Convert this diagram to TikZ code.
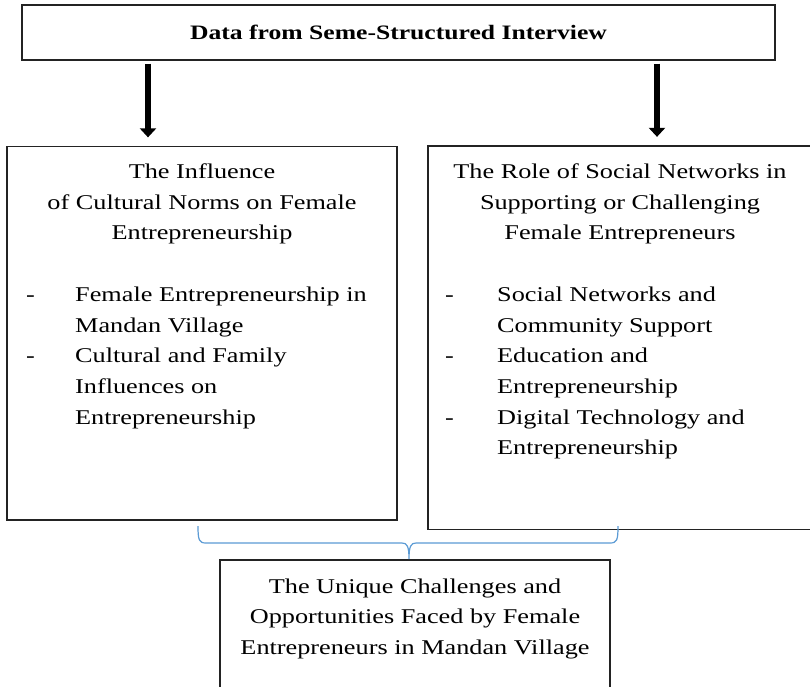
\documentclass[tikz,border=0pt]{standalone}
\usepackage{fontspec}
\setmainfont[FakeStretch=1.25]{Liberation Serif}
\usetikzlibrary{arrows.meta}
\definecolor{bracecol}{RGB}{91,155,213}
\definecolor{framecol}{RGB}{35,35,35}
\newcommand\stk[2][c]{\begin{tabular}[t]{@{}#1@{}}#2\end{tabular}}
\begin{document}
\begin{tikzpicture}[x=1pt,y=-1pt,
  box/.style={draw=framecol, line width=1.3pt, rectangle, inner sep=0pt},
  body/.style={font=\fontsize{21}{30.7}\selectfont, inner sep=0pt, text=black},
  ttl/.style={font=\bfseries\fontsize{20.5}{24}\selectfont, inner sep=0pt, text=black},
  bigarrow/.style={line width=6pt, -{Triangle[width=16pt,length=9pt]}},
  bracepath/.style={draw=bracecol, line width=1.2pt}]
\useasboundingbox (0,0) rectangle (810,686);
\fill[white] (0,0) rectangle (810,686);

% boxes
\node[box, minimum width=753pt, minimum height=55pt] (top) at (398.5,32.5) {};
\node[box, minimum width=390pt, minimum height=373.5pt] (lbox) at (202,333.25) {};
\node[box, minimum width=384pt, minimum height=383.5pt] (rbox) at (620,337.75) {};
\node[box, minimum width=390pt, minimum height=170pt] (bbox) at (415,645) {};

% top text
\node[ttl, anchor=base] (tt) at (398.5,39) {Data from Seme-Structured Interview};

% arrows
\coordinate (a1) at (148,0);
\coordinate (a2) at (657,0);
\draw[bigarrow, shorten <=3pt] (top.south -| a1) -- ([yshift=8.5pt]lbox.north -| a1);
\draw[bigarrow, shorten <=3pt] (top.south -| a2) -- ([yshift=8.5pt]rbox.north -| a2);

% left box text
\node[body, anchor=base] (lt) at (202,178.5) {\stk{The Influence\\of Cultural Norms on Female\\Entrepreneurship}};
\node[body, anchor=base west] (ld1) at (26,301.3) {-};
\node[body, anchor=base west] (ld2) at (26,362.7) {-};
\node[body, anchor=base west] (li1) at (75,301.3) {\stk[l]{Female Entrepreneurship in\\Mandan Village}};
\node[body, anchor=base west] (li2) at (75,362.7) {\stk[l]{Cultural and Family\\Influences on\\Entrepreneurship}};

% right box text
\node[body, anchor=base] (rt) at (620,178.5) {\stk{The Role of Social Networks in\\Supporting or Challenging\\Female Entrepreneurs}};
\node[body, anchor=base west] (rd1) at (445,301.3) {-};
\node[body, anchor=base west] (rd2) at (445,362.7) {-};
\node[body, anchor=base west] (rd3) at (445,424.1) {-};
\node[body, anchor=base west] (ri1) at (497,301.3) {\stk[l]{Social Networks and\\Community Support}};
\node[body, anchor=base west] (ri2) at (497,362.7) {\stk[l]{Education and\\Entrepreneurship}};
\node[body, anchor=base west] (ri3) at (497,424.1) {\stk[l]{Digital Technology and\\Entrepreneurship}};

% bottom box text
\node[body, anchor=base] (bt) at (415,593) {\stk{The Unique Challenges and\\Opportunities Faced by Female\\Entrepreneurs in Mandan Village}};

% brace
\coordinate (bl) at (198,526);
\coordinate (br) at (618,526);
\coordinate (btip) at (409,559);
\draw[bracepath] (bl) .. controls (198,540) and (199,543) .. (206,543)
  -- (402,543) .. controls (407,543) and (409,546) .. (btip)
  .. controls (409,546) and (411,543) .. (416,543)
  -- (610,543) .. controls (617,543) and (618,540) .. (br);
\end{tikzpicture}
\end{document}
